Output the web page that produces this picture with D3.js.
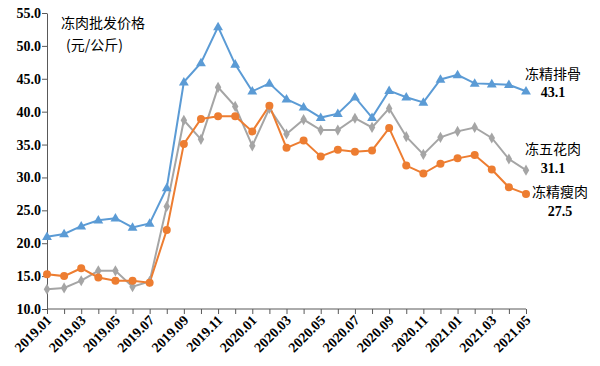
<!DOCTYPE html>
<html><head><meta charset="utf-8">
<script src="https://cdn.jsdelivr.net/npm/d3@7"></script>
<style>body{margin:0;background:#fff}svg{display:block}</style>
</head><body><svg id="c" width="600" height="366"></svg>
<script>
const months = ["2019.01","2019.02","2019.03","2019.04","2019.05","2019.06","2019.07","2019.08","2019.09","2019.10","2019.11","2019.12",
"2020.01","2020.02","2020.03","2020.04","2020.05","2020.06","2020.07","2020.08","2020.09","2020.10","2020.11","2020.12",
"2021.01","2021.02","2021.03","2021.04","2021.05"];
const paigu = [21.0,21.4,22.6,23.5,23.8,22.4,23.0,28.4,44.5,47.4,52.9,47.2,43.1,44.3,41.9,40.7,39.1,39.7,42.2,39.1,43.2,42.2,41.4,44.9,45.6,44.3,44.2,44.1,43.1];
const wuhua = [13.0,13.2,14.3,15.8,15.8,13.4,14.2,25.6,38.7,35.8,43.7,40.8,34.8,40.5,36.6,38.8,37.2,37.2,39.0,37.6,40.5,36.2,33.5,36.1,37.0,37.6,36.0,32.8,31.1];
const shourou = [15.3,15.0,16.2,14.8,14.3,14.3,14.0,22.0,35.1,38.9,39.3,39.3,37.0,40.9,34.5,35.6,33.2,34.2,33.9,34.1,37.5,31.8,30.6,32.1,32.9,33.4,31.2,28.5,27.5];
const yTicks = [10,15,20,25,30,35,40,45,50,55];
const seriesNames = ["冻精排骨","冻五花肉","冻精瘦肉"];
const colors = ["#5B9BD5","#A5A5A5","#ED7D31"];

const svg = d3.select("#c");
const L=47, R=526, T=13, B=309;
const x = d3.scalePoint().domain(months).range([L,R]);
const y = d3.scaleLinear().domain([10,55]).range([B,T]);

// axes
const ya = svg.append("g").attr("transform",`translate(${L},0)`)
  .call(d3.axisLeft(y).tickValues(yTicks).tickFormat(d3.format(".1f")).tickSize(5).tickSizeOuter(0));
ya.select(".domain").attr("stroke","#595959");
ya.selectAll(".tick line").attr("stroke","#595959");
ya.selectAll("text").attr("font-family","'Liberation Serif',serif").attr("font-weight","bold")
  .attr("font-size","14px").attr("fill","#000").attr("x",-6);

const xa = svg.append("g").attr("transform",`translate(0,${B})`)
  .call(d3.axisBottom(x).tickSize(5).tickSizeOuter(0).tickFormat((d,i)=> i%2===0? d : ""));
xa.select(".domain").attr("stroke","#595959").attr("d",`M${L},0H${R}`);
xa.selectAll(".tick line").attr("stroke","#595959");
xa.selectAll("text").attr("font-family","'Liberation Serif',serif").attr("font-weight","bold")
  .attr("font-size","14px").attr("fill","#000")
  .attr("text-anchor","end").attr("dy","0").attr("y",0)
  .attr("transform","translate(5,12) rotate(-45)");

// series
const data = [paigu, wuhua, shourou];
const line = d3.line().x((d,i)=>x(months[i])).y(d=>y(d));
data.forEach((s,k)=>{
  svg.append("path").attr("d",line(s)).attr("fill","none").attr("stroke",colors[k]).attr("stroke-width",2);
});
// markers
const tri = d3.symbol().type(d3.symbolTriangle).size(42);
const dia = d3.symbol().type(d3.symbolDiamond).size(36);
svg.append("g").selectAll("path").data(paigu).join("path")
  .attr("d",tri).attr("fill",colors[0])
  .attr("transform",(d,i)=>`translate(${x(months[i])},${y(d)+0.5})`);
svg.append("g").selectAll("path").data(wuhua).join("path")
  .attr("d",dia).attr("fill",colors[1])
  .attr("transform",(d,i)=>`translate(${x(months[i])},${y(d)})`);
svg.append("g").selectAll("circle").data(shourou).join("circle")
  .attr("cx",(d,i)=>x(months[i])).attr("cy",d=>y(d)).attr("r",4).attr("fill",colors[2]);

// title
const cjk = "'Noto Sans CJK SC',sans-serif";
svg.append("text").attr("x",61).attr("y",28).attr("font-family",cjk).attr("font-size","14px").text("冻肉批发价格");
svg.append("text").attr("x",66).attr("y",50).attr("font-family",cjk).attr("font-size","14px").text("(元/公斤)");

// end labels
const labs = [[525,79,97,paigu],[525,154,173,wuhua],[532,197,216,shourou]];
labs.forEach((l,k)=>{
  svg.append("text").attr("x",l[0]).attr("y",l[1]).attr("font-family",cjk).attr("font-size","14px").text(seriesNames[k]);
  svg.append("text").attr("x",l[0]+28).attr("y",l[2]).attr("text-anchor","middle").attr("font-family","'Liberation Serif',serif")
    .attr("font-weight","bold").attr("font-size","14px").text(d3.format(".1f")(l[3][l[3].length-1]));
});
</script></body></html>
